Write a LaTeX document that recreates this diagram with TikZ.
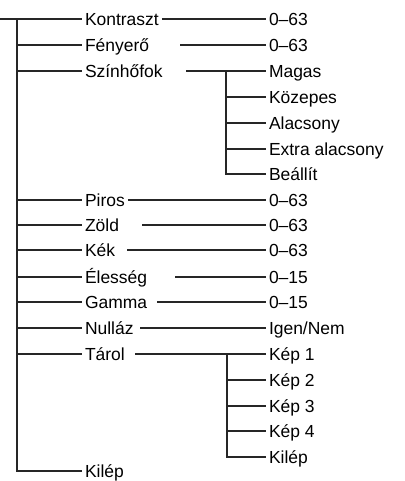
\documentclass[tikz,border=0pt]{standalone}
\usepackage{fontspec}
\setmainfont{Liberation Sans}
\begin{document}
\begin{tikzpicture}[x=0.75pt,y=-0.75pt,
  lbl/.style={anchor=west, inner xsep=2.25pt, inner ysep=0pt, outer sep=0pt,
    text height=9.2pt, text depth=0pt, font=\fontsize{13.1pt}{15pt}\selectfont},
  ln/.style={line width=0.9pt, draw=black!85}]
\useasboundingbox (0,0) rectangle (404,481);
% trunk
\coordinate (root) at (0,19);
\coordinate (t) at (17,19);
% first-level labels
\node[lbl] (kon) at (82,19) {Kontraszt};
\node[lbl] (fen) at (82,45) {Fényerő};
\node[lbl] (szin) at (82,71) {Színhőfok};
\node[lbl] (pir) at (82,200) {Piros};
\node[lbl] (zol) at (82,225) {Zöld};
\node[lbl] (kek) at (82,250) {Kék};
\node[lbl] (ele) at (82,277) {Élesség};
\node[lbl] (gam) at (82,302) {Gamma};
\node[lbl] (nul) at (82,328) {Nulláz};
\node[lbl] (tar) at (82,354) {Tárol};
\node[lbl] (kil) at (82,471) {Kilép};
% second-level labels
\node[lbl] (kon-v) at (266,19) {0–63};
\node[lbl] (fen-v) at (266,45) {0–63};
\node[lbl] (mag) at (266,71) {Magas};
\node[lbl] (koz) at (266,97) {Közepes};
\node[lbl] (ala) at (266,123) {Alacsony};
\node[lbl] (ext) at (266,149) {Extra alacsony};
\node[lbl] (bea) at (266,174) {Beállít};
\node[lbl] (pir-v) at (266,200) {0–63};
\node[lbl] (zol-v) at (266,225) {0–63};
\node[lbl] (kek-v) at (266,250) {0–63};
\node[lbl] (ele-v) at (266,277) {0–15};
\node[lbl] (gam-v) at (266,302) {0–15};
\node[lbl] (nul-v) at (266,328) {Igen/Nem};
\node[lbl] (kep1) at (266,354) {Kép 1};
\node[lbl] (kep2) at (266,380) {Kép 2};
\node[lbl] (kep3) at (266,406) {Kép 3};
\node[lbl] (kep4) at (266,431) {Kép 4};
\node[lbl] (kil2) at (266,457) {Kilép};
% line starts and junctions
\coordinate (fen-s) at (180,45);
\coordinate (szin-s) at (186,71);
\coordinate (szin-j) at (226,71);
\coordinate (zol-s) at (142,225);
\coordinate (kek-s) at (127,250);
\coordinate (ele-s) at (175,277);
\coordinate (gam-s) at (157,302);
\coordinate (nul-s) at (140,328);
\coordinate (tar-s) at (135,354);
\coordinate (tar-j) at (227,354);
% trunk connectors
\draw[ln] (root) -- (kon.west);
\draw[ln] (t) |- (kil.west);
\foreach \n in {fen,szin,pir,zol,kek,ele,gam,nul,tar}
  \draw[ln] (t |- \n.west) -- (\n.west);
% right connectors
\draw[ln] (kon.east) -- (kon-v.west);
\draw[ln] (fen-s) -- (fen-v.west);
\draw[ln] (szin-s) -- (mag.west);
\draw[ln] (szin-j) |- (bea.west);
\foreach \n in {koz,ala,ext}
  \draw[ln] (szin-j |- \n.west) -- (\n.west);
\draw[ln] (pir.east) -- (pir-v.west);
\draw[ln] (zol-s) -- (zol-v.west);
\draw[ln] (kek-s) -- (kek-v.west);
\draw[ln] (ele-s) -- (ele-v.west);
\draw[ln] (gam-s) -- (gam-v.west);
\draw[ln] (nul-s) -- (nul-v.west);
\draw[ln] (tar-s) -- (kep1.west);
\draw[ln] (tar-j) |- (kil2.west);
\foreach \n in {kep2,kep3,kep4}
  \draw[ln] (tar-j |- \n.west) -- (\n.west);
\end{tikzpicture}
\end{document}
